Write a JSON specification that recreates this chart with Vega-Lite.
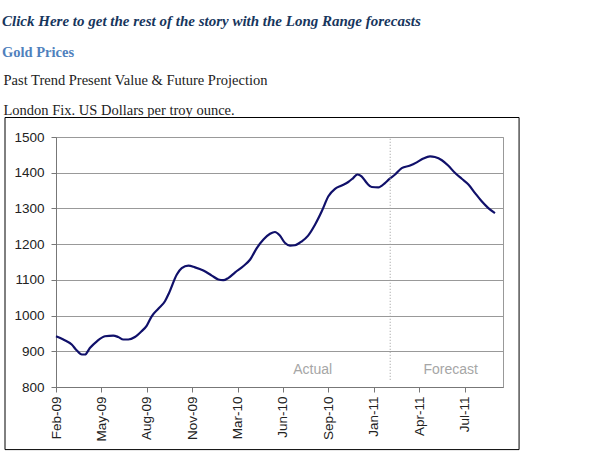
{
  "$schema": "https://vega.github.io/schema/vega-lite/v6.json",
  "background": "white",
  "autosize": {"type": "pad"},
  "padding": {"left": 2, "top": 13, "right": 0, "bottom": 0},
  "title": {
    "text": "Click Here to get the rest of the story with the Long Range forecasts",
    "subtitle": "Gold Prices",
    "anchor": "start",
    "frame": "bounds",
    "dx": -1,
    "font": "Liberation Serif",
    "fontSize": 15,
    "fontStyle": "italic",
    "fontWeight": "bold",
    "color": "#17365D",
    "subtitleFont": "Liberation Serif",
    "subtitleFontSize": 14.5,
    "subtitleFontWeight": "bold",
    "subtitleColor": "#4F81BD",
    "subtitlePadding": 17,
    "offset": 13
  },
  "vconcat": [
    {
      "title": {
        "text": ["Past Trend Present Value & Future Projection", "London Fix. US Dollars per troy ounce."],
        "anchor": "start",
        "frame": "bounds",
        "dx": -1,
        "font": "Liberation Serif",
        "fontSize": 14.5,
        "fontWeight": "normal",
        "color": "#222222",
        "lineHeight": 30,
        "offset": -1
      },
      "width": 447,
      "height": 250,
      "layer": [
        {
          "data": {"values": [
            {"week": 0, "price": 942}, {"week": 2.1, "price": 933}, {"week": 4.5, "price": 919},
            {"week": 5.9, "price": 903}, {"week": 7.4, "price": 891}, {"week": 8.3, "price": 891},
            {"week": 9.7, "price": 909}, {"week": 11.7, "price": 928}, {"week": 14.0, "price": 942},
            {"week": 16.4, "price": 944}, {"week": 17.8, "price": 940}, {"week": 19.3, "price": 933},
            {"week": 20.7, "price": 933}, {"week": 22.6, "price": 940}, {"week": 24.5, "price": 956},
            {"week": 26.0, "price": 972}, {"week": 27.4, "price": 998}, {"week": 29.3, "price": 1019},
            {"week": 31.2, "price": 1040}, {"week": 32.4, "price": 1064}, {"week": 34.6, "price": 1115},
            {"week": 36.0, "price": 1133}, {"week": 37.9, "price": 1140}, {"week": 39.8, "price": 1135},
            {"week": 42.2, "price": 1126}, {"week": 44.6, "price": 1112}, {"week": 46.5, "price": 1101},
            {"week": 47.9, "price": 1099}, {"week": 49.3, "price": 1105}, {"week": 51.3, "price": 1121},
            {"week": 53.6, "price": 1138}, {"week": 55.6, "price": 1157}, {"week": 57.5, "price": 1189},
            {"week": 59.4, "price": 1213}, {"week": 61.3, "price": 1229}, {"week": 62.7, "price": 1234},
            {"week": 64.1, "price": 1224}, {"week": 65.6, "price": 1203}, {"week": 67.0, "price": 1196},
            {"week": 68.4, "price": 1197}, {"week": 70.4, "price": 1208}, {"week": 72.2, "price": 1224},
            {"week": 74.2, "price": 1255}, {"week": 76.1, "price": 1292}, {"week": 78.0, "price": 1334},
            {"week": 79.9, "price": 1355}, {"week": 81.8, "price": 1364}, {"week": 83.7, "price": 1374},
            {"week": 85.1, "price": 1385}, {"week": 86.3, "price": 1395}, {"week": 87.5, "price": 1390},
            {"week": 89.0, "price": 1371}, {"week": 90.4, "price": 1360}, {"week": 92.3, "price": 1359},
            {"week": 94.2, "price": 1371}, {"week": 95.4, "price": 1382}, {"week": 97.1, "price": 1395},
            {"week": 99.0, "price": 1413}, {"week": 101.4, "price": 1420}, {"week": 103.3, "price": 1429},
            {"week": 105.2, "price": 1440}, {"week": 107.1, "price": 1446}, {"week": 108.5, "price": 1444},
            {"week": 110.5, "price": 1435}, {"week": 112.3, "price": 1420}, {"week": 114.3, "price": 1399},
            {"week": 116.2, "price": 1383}, {"week": 118.1, "price": 1367}, {"week": 120.0, "price": 1343},
            {"week": 121.9, "price": 1320}, {"week": 123.8, "price": 1301}, {"week": 125.7, "price": 1287}
          ]},
          "mark": {"type": "line", "color": "#10106a", "strokeWidth": 2.2, "interpolate": "monotone"},
          "encoding": {
            "x": {
              "field": "week", "type": "quantitative",
              "scale": {"domain": [0, 128], "nice": false, "zero": false},
              "axis": {"title": null, "values": [0, 13, 26, 39, 52, 65, 78, 91, 104, 117],
                "labelExpr": "['Feb-09','May-09','Aug-09','Nov-09','Mar-10','Jun-10','Sep-10','Jan-11','Apr-11','Jul-11'][round(datum.value/13)]"}
            },
            "y": {
              "field": "price", "type": "quantitative",
              "scale": {"domain": [800, 1500], "nice": false, "zero": false},
              "axis": {"title": null, "values": [800, 900, 1000, 1100, 1200, 1300, 1400, 1500], "format": "d"}
            }
          }
        },
        {
          "data": {"values": [{}]},
          "mark": {"type": "rule", "color": "#999999", "strokeDash": [1, 2], "strokeWidth": 1},
          "encoding": {
            "x": {"datum": 95.7, "type": "quantitative", "scale": {"domain": [0, 128], "nice": false, "zero": false},
              "axis": {"title": null, "values": [0, 13, 26, 39, 52, 65, 78, 91, 104, 117],
                "labelExpr": "['Feb-09','May-09','Aug-09','Nov-09','Mar-10','Jun-10','Sep-10','Jan-11','Apr-11','Jul-11'][round(datum.value/13)]"}},
            "y": {"datum": 1495, "type": "quantitative", "scale": {"domain": [800, 1500], "nice": false, "zero": false},
              "axis": {"title": null, "values": [800, 900, 1000, 1100, 1200, 1300, 1400, 1500], "format": "d"}},
            "y2": {"datum": 818}
          }
        },
        {
          "data": {"values": [{}]},
          "mark": {"type": "text", "font": "Liberation Sans", "fontSize": 14, "color": "#a6a6a6", "align": "center", "baseline": "middle"},
          "encoding": {
            "x": {"datum": 73.5, "type": "quantitative", "scale": {"domain": [0, 128], "nice": false, "zero": false},
              "axis": {"title": null, "values": [0, 13, 26, 39, 52, 65, 78, 91, 104, 117],
                "labelExpr": "['Feb-09','May-09','Aug-09','Nov-09','Mar-10','Jun-10','Sep-10','Jan-11','Apr-11','Jul-11'][round(datum.value/13)]"}},
            "y": {"datum": 847, "type": "quantitative", "scale": {"domain": [800, 1500], "nice": false, "zero": false},
              "axis": {"title": null, "values": [800, 900, 1000, 1100, 1200, 1300, 1400, 1500], "format": "d"}},
            "text": {"value": "Actual"}
          }
        },
        {
          "data": {"values": [{}]},
          "mark": {"type": "text", "font": "Liberation Sans", "fontSize": 14, "color": "#a6a6a6", "align": "center", "baseline": "middle"},
          "encoding": {
            "x": {"datum": 113, "type": "quantitative", "scale": {"domain": [0, 128], "nice": false, "zero": false},
              "axis": {"title": null, "values": [0, 13, 26, 39, 52, 65, 78, 91, 104, 117],
                "labelExpr": "['Feb-09','May-09','Aug-09','Nov-09','Mar-10','Jun-10','Sep-10','Jan-11','Apr-11','Jul-11'][round(datum.value/13)]"}},
            "y": {"datum": 847, "type": "quantitative", "scale": {"domain": [800, 1500], "nice": false, "zero": false},
              "axis": {"title": null, "values": [800, 900, 1000, 1100, 1200, 1300, 1400, 1500], "format": "d"}},
            "text": {"value": "Forecast"}
          }
        },
        {
          "data": {"values": [{}]},
          "mark": {"type": "rect", "fill": "transparent", "stroke": "#000000", "strokeWidth": 1, "clip": false},
          "encoding": {
            "x": {"datum": -14.6, "type": "quantitative", "scale": {"domain": [0, 128], "nice": false, "zero": false},
              "axis": {"title": null, "values": [0, 13, 26, 39, 52, 65, 78, 91, 104, 117],
                "labelExpr": "['Feb-09','May-09','Aug-09','Nov-09','Mar-10','Jun-10','Sep-10','Jan-11','Apr-11','Jul-11'][round(datum.value/13)]"}},
            "x2": {"datum": 132.6},
            "y": {"datum": 1554.6, "type": "quantitative", "scale": {"domain": [800, 1500], "nice": false, "zero": false},
              "axis": {"title": null, "values": [800, 900, 1000, 1100, 1200, 1300, 1400, 1500], "format": "d"}},
            "y2": {"datum": 624.7}
          }
        }
      ]
    }
  ],
  "config": {
    "view": {"stroke": "#999999", "strokeWidth": 1},
    "concat": {"spacing": 0},
    "axisX": {
      "labelAngle": 270, "labelAlign": "right", "labelBaseline": "middle", "labelPadding": 4,
      "grid": false, "tickSize": 5, "labelFont": "Liberation Sans", "labelFontSize": 13.5,
      "labelColor": "#222222", "domainColor": "#777777", "tickColor": "#777777", "labelOverlap": false
    },
    "axisY": {
      "grid": true, "gridColor": "#999999", "tickSize": 5, "labelPadding": 7,
      "labelFont": "Liberation Sans", "labelFontSize": 13.5, "labelColor": "#222222",
      "domainColor": "#777777", "tickColor": "#777777", "labelOverlap": false
    }
  }
}
